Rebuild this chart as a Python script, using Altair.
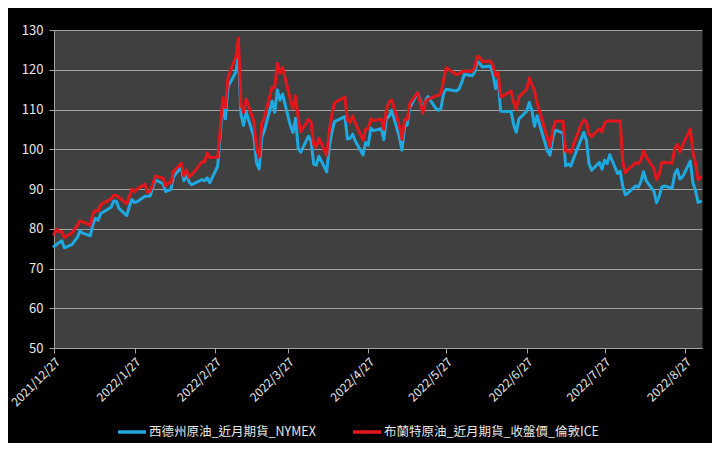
import altair as alt
import pandas as pd

# trading dates (Dec 2021 - Sep 2022)
dates = (
    ["2021-12-27", "2021-12-28", "2021-12-29", "2021-12-30", "2021-12-31"]
    + ["2022-01-%02d" % d for d in [3, 4, 5, 6, 7, 10, 11, 12, 13, 14, 18, 19, 20, 21, 24, 25, 26, 27, 28, 31]]
    + ["2022-02-%02d" % d for d in [1, 2, 3, 4, 7, 8, 9, 10, 11, 14, 15, 16, 17, 18, 22, 23, 24, 25, 28]]
    + ["2022-03-%02d" % d for d in [1, 2, 3, 4, 7, 8, 9, 10, 11, 14, 15, 16, 17, 18, 21, 22, 23, 24, 25, 28, 29, 30, 31]]
    + ["2022-04-%02d" % d for d in [1, 4, 5, 6, 7, 8, 11, 12, 13, 14, 18, 19, 20, 21, 22, 25, 26, 27, 28, 29]]
    + ["2022-05-%02d" % d for d in [2, 3, 4, 5, 6, 9, 10, 11, 12, 13, 16, 17, 18, 19, 20, 23, 24, 25, 26, 27, 31]]
    + ["2022-06-%02d" % d for d in [1, 2, 3, 6, 7, 8, 9, 10, 13, 14, 15, 16, 17, 21, 22, 23, 24, 27, 28, 29, 30]]
    + ["2022-07-%02d" % d for d in [1, 5, 6, 7, 8, 11, 12, 13, 14, 15, 18, 19, 20, 21, 22, 25, 26, 27, 28, 29]]
    + ["2022-08-%02d" % d for d in [1, 2, 3, 4, 5, 8, 9, 10, 11, 12, 15, 16, 17, 18, 19, 22, 23, 24, 25, 26, 29, 30, 31]]
    + ["2022-09-01", "2022-09-02"]
)

wti = [
    75.57, 75.98, 76.56, 76.99, 75.21,
    76.08, 76.99, 77.85, 79.46, 78.90, 78.23, 81.22, 82.64, 82.12, 83.82, 85.43, 86.96, 86.90, 85.14, 83.31, 85.60, 87.35, 86.61, 86.82, 88.15,
    88.20, 88.26, 90.27, 92.31, 91.32, 89.36, 89.66, 89.88, 93.10, 95.46, 92.07, 93.66, 91.76, 91.07, 92.35, 92.10, 92.81, 91.59, 95.72,
    103.41, 110.60, 107.67, 115.68, 119.40, 123.70, 108.70, 106.02, 109.33, 103.01, 96.44, 95.04, 102.98, 104.70, 112.12, 109.27, 114.93, 112.34, 113.90, 105.96, 104.24, 107.82, 100.28,
    99.27, 103.28, 101.96, 96.23, 96.03, 98.26, 94.29, 100.60, 104.25, 106.95, 108.21, 102.56, 102.75, 103.79, 102.07, 98.54, 101.70, 101.02, 105.36, 104.69,
    105.17, 102.41, 107.81, 108.26, 109.77, 103.09, 99.76, 105.71, 106.13, 110.49, 114.20, 112.40, 109.59, 112.21, 113.23, 110.29, 109.77, 110.33, 114.09, 115.07, 114.67,
    115.26, 116.87, 118.87, 118.50, 119.41, 122.11, 121.51, 120.67, 120.93, 118.93, 115.31, 117.59, 109.56, 109.52, 106.19, 104.27, 107.62, 109.57, 111.76, 109.78, 105.76,
    108.43, 99.50, 98.53, 102.73, 104.79, 104.09, 95.84, 96.30, 95.78, 97.59, 102.60, 104.22, 102.26, 96.35, 94.70, 96.70, 94.98, 97.26, 96.42, 98.62,
    93.89, 94.42, 90.66, 88.54, 89.01, 90.76, 90.50, 91.93, 94.34, 92.09, 89.41, 86.53, 88.11, 90.50, 90.77, 90.23, 93.74, 94.89, 92.52, 93.06, 97.01, 91.64, 89.55,
    86.61, 86.87,
]

brent = [
    78.60, 79.94, 79.23, 79.32, 77.78,
    78.98, 80.00, 80.80, 81.99, 81.75, 80.87, 83.72, 84.67, 84.47, 86.06, 87.51, 88.44, 88.38, 87.89, 86.27, 88.20, 89.96, 89.34, 90.03, 91.21,
    89.16, 89.47, 91.11, 93.27, 92.69, 90.78, 91.55, 91.41, 94.44, 96.48, 93.28, 94.81, 92.97, 93.54, 96.84, 96.84, 99.08, 97.93, 97.97,
    104.97, 112.93, 110.46, 118.11, 123.21, 127.98, 111.14, 109.33, 112.67, 106.90, 99.91, 98.02, 106.64, 107.93, 115.62, 115.48, 121.60, 119.03, 120.65, 112.48, 110.23, 113.45, 107.91,
    104.39, 107.53, 106.64, 101.07, 100.58, 102.78, 98.48, 104.64, 108.78, 111.70, 113.16, 107.25, 106.80, 108.33, 106.65, 102.32, 104.99, 105.32, 107.59, 107.20,
    107.58, 104.97, 110.14, 111.90, 112.39, 105.94, 102.46, 107.51, 107.45, 111.55, 114.24, 111.93, 109.11, 112.04, 112.55, 113.42, 113.56, 114.03, 117.40, 120.50, 118.80,
    119.00, 119.50, 119.70, 119.60, 120.60, 123.40, 123.00, 122.00, 122.20, 121.10, 118.50, 119.30, 113.12, 114.65, 111.74, 110.05, 113.12, 115.09, 117.98, 116.26, 114.81,
    111.63, 102.77, 100.69, 104.65, 107.02, 107.10, 99.49, 99.57, 99.10, 101.16, 106.27, 107.35, 106.92, 103.86, 103.20, 105.15, 104.40, 106.62, 107.14, 107.10,
    107.10, 107.10, 96.78, 94.12, 94.92, 96.65, 96.31, 97.40, 99.60, 98.15, 95.10, 92.34, 93.65, 96.59, 96.72, 96.48, 100.22, 101.22, 99.34, 100.99, 105.09, 99.31, 96.49,
    92.36, 93.02,
]

series_names = ["西德州原油_近月期貨_NYMEX", "布蘭特原油_近月期貨_收盤價_倫敦ICE"]
series_colors = ["#1EA9E1", "#E3161C"]
y_ticks = [50, 60, 70, 80, 90, 100, 110, 120, 130]
x_ticks = ["2021-12-27", "2022-01-27", "2022-02-27", "2022-03-27", "2022-04-27",
           "2022-05-27", "2022-06-27", "2022-07-27", "2022-08-27"]
x_domain = ["2021-12-27", "2022-09-02T12:00:00"]

assert len(dates) == len(wti) == len(brent)


def ms(s):
    return int(pd.Timestamp(s, tz="UTC").value // 1_000_000)


df = pd.DataFrame({
    "t": [ms(d) for d in dates] * 2,
    "value": wti + brent,
    "series": [series_names[0]] * len(dates) + [series_names[1]] * len(dates),
})

grid_c = "#a3a3a3"
text_c = "#e6e6e6"
font = "Noto Sans CJK TC"

color = alt.Color(
    "series:N",
    scale=alt.Scale(domain=series_names, range=series_colors),
    legend=alt.Legend(
        title=None, orient="none", direction="horizontal",
        legendX=62, legendY=386,
        symbolType="stroke", symbolSize=784, symbolStrokeWidth=3.5,
        labelColor=text_c, labelFont=font, labelFontSize=12.5,
        labelLimit=400, columnPadding=30, labelOffset=1, padding=0,
    ),
)

x = alt.X(
    "t:T",
    scale=alt.Scale(type="utc", domain=[ms(d) for d in x_domain]),
    axis=alt.Axis(
        title=None, values=[ms(d) for d in x_ticks],
        labelExpr="utcFormat(datum.value, '%Y/%-m/%-d')",
        labelAngle=-45, labelAlign="right", labelBaseline="top",
        labelColor=text_c, labelFont=font, labelFontSize=12, labelPadding=3,
        domainColor=grid_c, tickColor=grid_c, tickSize=5, grid=False,
        labelOverlap=False, labelFlush=False,
    ),
)
y = alt.Y(
    "value:Q",
    scale=alt.Scale(domain=[50, 130], nice=False, zero=False),
    axis=alt.Axis(
        title=None, values=y_ticks, grid=True, gridColor=grid_c, gridWidth=1,
        domainColor=grid_c, tickColor=grid_c, tickSize=5,
        labelColor=text_c, labelFont=font, labelFontSize=13, labelPadding=6,
    ),
)

base = alt.Chart(df)
lines = [
    base.transform_filter(alt.datum.series == name)
    .mark_line(strokeWidth=3, strokeJoin="round", strokeCap="round")
    .encode(x=x, y=y, color=color)
    for name in series_names
]

chart = (
    alt.layer(*lines)
    .properties(
        width=648, height=318,
        padding={"left": 46, "top": 22, "right": 10, "bottom": 95},
        autosize=alt.AutoSizeParams(type="none"),
        background="black",
    )
    .configure_view(fill="#404040", stroke="transparent")
)

chart.save("out.html", embed_options={"renderer": "svg", "actions": False})
